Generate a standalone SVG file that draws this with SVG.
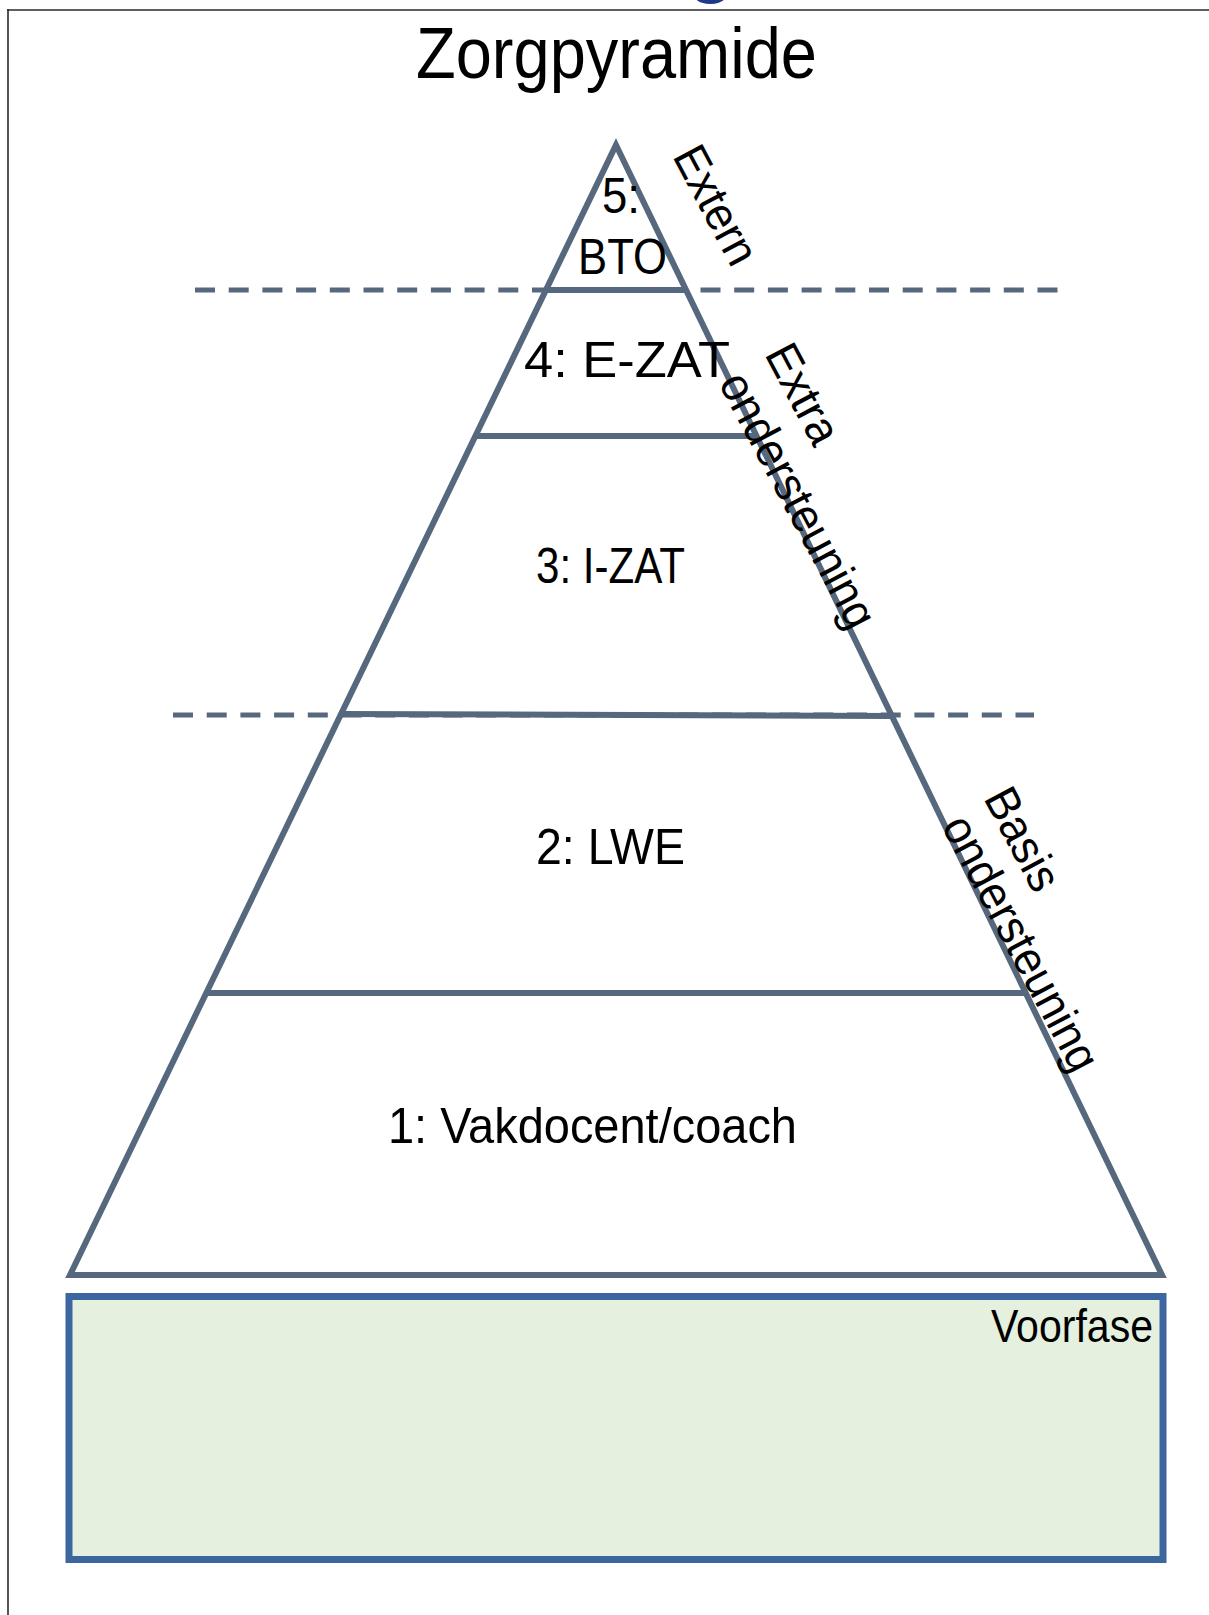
<svg xmlns="http://www.w3.org/2000/svg" width="1209" height="1615" viewBox="0 0 1209 1615">
<style>
.lbl{font-family:"Liberation Sans",Arial,sans-serif;font-size:50px;fill:#000}
.rot{font-family:"Liberation Sans",Arial,sans-serif;font-size:47px;fill:#000}
.edge{fill:none;stroke:#56687e;stroke-width:6}
.lvl{stroke:#56687e;stroke-width:6;fill:none}
.dash{stroke:#56687e;stroke-width:5;stroke-dasharray:20 13.7;fill:none}
.frame{stroke:#2a2a2a;stroke-width:1.6;fill:none}
</style>
<rect width="1209" height="1615" fill="#fff"/>
<text x="686" y="-15" font-family="Liberation Sans, Arial, sans-serif" font-size="90" fill="#1f3a8a">g</text>
<g id="frame">
<line class="frame" x1="7" y1="10" x2="1209" y2="10"/>
<line class="frame" x1="8" y1="9" x2="8" y2="1615"/>
</g>
<g id="title"><text class="lbl" x="416" y="78" style="font-size:72px" textLength="401" lengthAdjust="spacingAndGlyphs">Zorgpyramide</text></g>
<g id="connectors">
<line class="dash" x1="195" y1="290" x2="1058" y2="290"/>
<line class="dash" x1="173" y1="715" x2="1034" y2="715"/>
</g>
<g id="pyramid">
<polygon class="edge" points="616,145 1162,1275 70,1275" stroke-linejoin="miter"/>
<line class="lvl" x1="546" y1="290" x2="686" y2="290"/>
<line class="lvl" x1="475" y1="436" x2="757" y2="436"/>
<line class="lvl" x1="341" y1="714" x2="892" y2="716"/>
<line class="lvl" x1="206" y1="993" x2="1026" y2="993"/>
</g>
<g id="level5">
<text class="lbl" x="602" y="213" textLength="38" lengthAdjust="spacingAndGlyphs">5:</text>
<text class="lbl" x="578" y="274" textLength="89" lengthAdjust="spacingAndGlyphs">BTO</text>
</g>
<g id="level4"><text class="lbl" x="524" y="377" textLength="206" lengthAdjust="spacingAndGlyphs">4: E-ZAT</text></g>
<g id="level3"><text class="lbl" x="536" y="583" textLength="149" lengthAdjust="spacingAndGlyphs">3: I-ZAT</text></g>
<g id="level2"><text class="lbl" x="536" y="864" textLength="149" lengthAdjust="spacingAndGlyphs">2: LWE</text></g>
<g id="level1"><text class="lbl" x="388" y="1143" textLength="409" lengthAdjust="spacingAndGlyphs">1: Vakdocent/coach</text></g>
<g id="side-extern"><text class="rot" transform="translate(672,156) rotate(62)" textLength="128" lengthAdjust="spacingAndGlyphs">Extern</text></g>
<g id="side-extra">
<text class="rot" transform="translate(764,354) rotate(62)" textLength="107" lengthAdjust="spacingAndGlyphs">Extra</text>
<text class="rot" transform="translate(718,383) rotate(62)" textLength="282" lengthAdjust="spacingAndGlyphs">ondersteuning</text>
</g>
<g id="side-basis">
<text class="rot" transform="translate(983,798) rotate(62)" textLength="110" lengthAdjust="spacingAndGlyphs">Basis</text>
<text class="rot" transform="translate(941,826) rotate(62)" textLength="282" lengthAdjust="spacingAndGlyphs">ondersteuning</text>
</g>
<g id="voorfase">
<rect x="69" y="1296.5" width="1094" height="263" fill="#e5f0df" stroke="#3d66a0" stroke-width="7"/>
<text class="lbl" x="991" y="1342" style="font-size:46px" textLength="162" lengthAdjust="spacingAndGlyphs">Voorfase</text>
</g>
</svg>
